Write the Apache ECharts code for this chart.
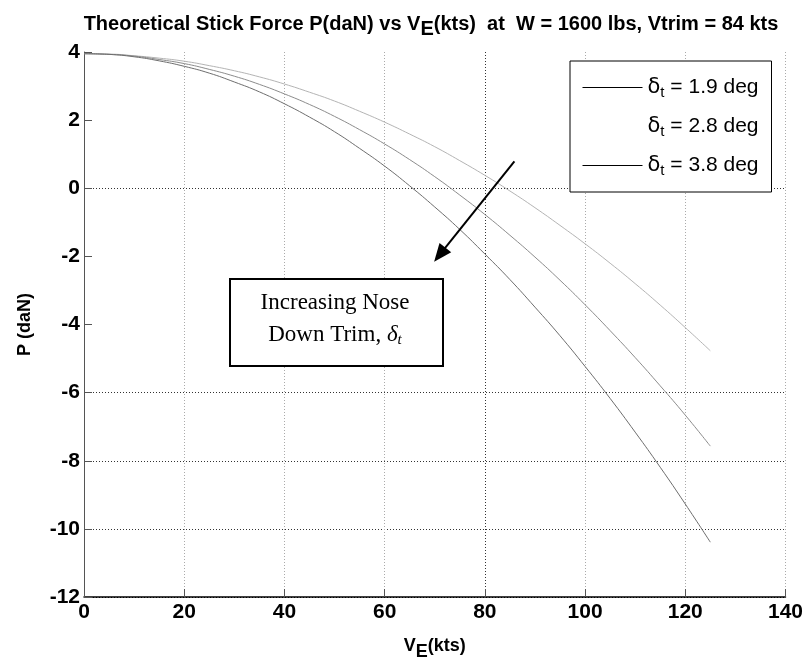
<!DOCTYPE html>
<html>
<head>
<meta charset="utf-8">
<script src="https://cdn.jsdelivr.net/npm/echarts@6/dist/echarts.min.js"></script>
<style>html,body{margin:0;padding:0;background:#fff;}#c{width:806px;height:666px;}</style>
</head>
<body>
<div id="c"></div>
<script>
// Airspeed V_E (kts)
var speeds = [0,5,10,15,20,25,30,35,40,45,50,55,60,65,70,75,80,85,90,95,100,105,110,115,120,125];
// Stick force P (daN) for each trim setting
var force19 = [3.95,3.94,3.89,3.82,3.73,3.60,3.45,3.27,3.06,2.82,2.56,2.26,1.94,1.59,1.22,0.81,0.38,-0.08,-0.57,-1.09,-1.63,-2.20,-2.80,-3.43,-4.09,-4.77];
var force28 = [3.95,3.93,3.88,3.78,3.66,3.49,3.29,3.05,2.77,2.46,2.11,1.72,1.30,0.84,0.34,-0.20,-0.77,-1.38,-2.02,-2.70,-3.42,-4.18,-4.97,-5.80,-6.66,-7.57];
var force38 = [3.95,3.93,3.86,3.74,3.58,3.38,3.12,2.83,2.48,2.09,1.66,1.17,0.65,0.07,-0.55,-1.21,-1.93,-2.68,-3.49,-4.33,-5.23,-6.17,-7.16,-8.19,-9.27,-10.39];
var trimNames = ['1.9','2.8','3.8'];
var xTicks = [0,20,40,60,80,100,120,140];
var yTicks = [-12,-10,-8,-6,-4,-2,0,2,4];
// arrow annotation (data coords)
var arrowFrom = [85.9, 0.79];
var arrowTo = [71.0, -1.95];

function pairs(xs, ys){ return xs.map(function(x,i){ return [x, ys[i]]; }); }

var chart = echarts.init(document.getElementById('c'));
var sans = 'Liberation Sans, Arial, sans-serif';
var serif = 'Liberation Serif, Times New Roman, serif';
var option = {
  animation: false,
  backgroundColor: '#fff',
  title: {
    text: 'Theoretical Stick Force P(daN) vs V{sub|E}(kts)  at  W = 1600 lbs, Vtrim = 84 kts',
    left: 426, top: 7, textAlign: 'center',
    textStyle: {
      fontFamily: sans, fontSize: 20, fontWeight: 'bold', color: '#000', lineHeight: 24,
      rich: { sub: { fontFamily: sans, fontSize: 20, fontWeight: 'bold', color: '#000', lineHeight: 24, padding: [10,0,0,0] } }
    }
  },
  grid: { left: 84, top: 52, width: 704, height: 549, containLabel: false },
  legend: {
    orient: 'vertical', left: 570, top: 61,
    padding: [14, 13, 14, 12], itemGap: 14, itemWidth: 60, itemHeight: 20,
    borderColor: '#000', borderWidth: 1, backgroundColor: '#fff',
    itemStyle: { opacity: 0 },
    data: [
      { name: '1.9', itemStyle: { opacity: 0 }, lineStyle: { color: '#000', width: 1 } },
      { name: '2.8', itemStyle: { opacity: 0 }, lineStyle: { color: 'rgba(255,255,255,0)', width: 1 } },
      { name: '3.8', itemStyle: { opacity: 0 }, lineStyle: { color: '#000', width: 1 } }
    ],
    formatter: function(n){ return '{d|δ}{s|t}{n| = ' + n + ' deg}'; },
    textStyle: {
      color: '#000',
      rich: {
        d: { fontFamily: 'DejaVu Sans, sans-serif', fontSize: 21, color: '#000', lineHeight: 24 },
        s: { fontFamily: sans, fontSize: 15, color: '#000', padding: [10,0,0,0], lineHeight: 24 },
        n: { fontFamily: sans, fontSize: 21, color: '#000', lineHeight: 24 }
      }
    }
  },
  xAxis: {
    type: 'value', min: 0, max: 140, interval: 20,
    name: 'V{sub|E}(kts)', nameLocation: 'middle', nameGap: 34,
    nameTextStyle: {
      fontFamily: sans, fontSize: 18, fontWeight: 'bold', color: '#000',
      rich: { sub: { fontFamily: sans, fontSize: 18, fontWeight: 'bold', color: '#000', padding: [12,0,0,0] } }
    },
    axisLine: { show: true, onZero: false, lineStyle: { color: '#000', width: 1.5 } },
    axisTick: { show: true, inside: true, length: 8, lineStyle: { color: '#555' } },
    axisLabel: { fontFamily: sans, fontSize: 21, fontWeight: 'bold', color: '#000', margin: 5,
      formatter: function(v){ return xTicks.indexOf(v) >= 0 ? String(v) : ''; } },
    splitLine: { show: true, lineStyle: { type: [1,2], width: 1,
      color: ['#000','#aaa','#aaa','#aaa','#333','#aaa','#aaa','#aaa'] } }
  },
  yAxis: {
    type: 'value', min: -12, max: 4, interval: 2,
    name: 'P (daN)', nameLocation: 'middle', nameGap: 50, nameRotate: 90,
    nameTextStyle: { fontFamily: sans, fontSize: 18, fontWeight: 'bold', color: '#000' },
    axisLine: { show: true, onZero: false, lineStyle: { color: '#555', width: 1 } },
    axisTick: { show: true, inside: true, length: 8, lineStyle: { color: '#555' } },
    axisLabel: { fontFamily: sans, fontSize: 21, fontWeight: 'bold', color: '#000', margin: 4,
      formatter: function(v){ return yTicks.indexOf(v) >= 0 ? String(v) : ''; } },
    splitLine: { show: true, lineStyle: { type: [1,2], width: 1,
      color: ['#000','#333','#333','#333','rgba(0,0,0,0)','rgba(0,0,0,0)','#333','rgba(0,0,0,0)','rgba(0,0,0,0)'] } }
  },
  series: [
    { name: trimNames[0], type: 'line', data: pairs(speeds, force19), showSymbol: false, symbol: 'none', smooth: true,
      lineStyle: { color: '#b4b4b4', width: 1 }, itemStyle: { color: '#b4b4b4' } },
    { name: trimNames[1], type: 'line', data: pairs(speeds, force28), showSymbol: false, symbol: 'none', smooth: true,
      lineStyle: { color: '#8c8c8c', width: 1 }, itemStyle: { color: '#8c8c8c' } },
    { name: trimNames[2], type: 'line', data: pairs(speeds, force38), showSymbol: false, symbol: 'none', smooth: true,
      lineStyle: { color: '#6e6e6e', width: 1 }, itemStyle: { color: '#6e6e6e' },
      markLine: {
        silent: true, symbol: ['none', 'triangle'], symbolSize: [15, 18],
        lineStyle: { color: '#000', width: 2, type: 'solid' },
        label: { show: false },
        data: [[ { coord: arrowFrom }, { coord: arrowTo } ]]
      }
    }
  ],
  graphic: [
    { type: 'rect', left: 229, top: 278, shape: { width: 213, height: 87 },
      style: { fill: '#fff', stroke: '#000', lineWidth: 2 }, z: 100 },
    { type: 'text', x: 335, y: 287, z: 101,
      style: {
        text: 'Increasing Nose\n{a|Down Trim, }{i|δ}{s|t}',
        align: 'center', verticalAlign: 'top',
        font: '23px ' + serif, fill: '#000', lineHeight: 32,
        rich: {
          a: { fontFamily: serif, fontSize: 23, fill: '#000', lineHeight: 32 },
          i: { fontFamily: serif, fontSize: 23, fontStyle: 'italic', fill: '#000', lineHeight: 32 },
          s: { fontFamily: serif, fontSize: 15, fontStyle: 'italic', fill: '#000', lineHeight: 32, padding: [10,0,0,0] }
        }
      }
    }
  ]
};
chart.setOption(option);
</script>
</body>
</html>
